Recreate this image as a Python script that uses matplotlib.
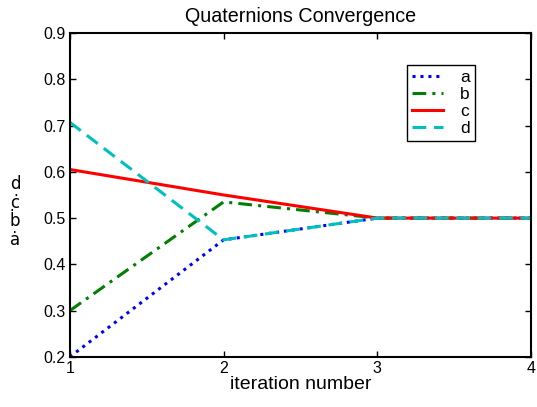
import matplotlib
matplotlib.use("Agg")
import matplotlib.pyplot as plt

iterations = [1, 2, 3, 4]
a_vals = [0.200, 0.453, 0.500, 0.500]
b_vals = [0.300, 0.535, 0.500, 0.500]
c_vals = [0.605, 0.550, 0.500, 0.500]
d_vals = [0.707, 0.453, 0.500, 0.500]
x_ticks = [1, 2, 3, 4]
y_ticks = [0.2, 0.3, 0.4, 0.5, 0.6, 0.7, 0.8, 0.9]

plt.rcParams['font.family'] = ['Liberation Sans', 'DejaVu Sans']

fig = plt.figure(figsize=(5.37, 4.07), dpi=100)
ax = fig.add_axes([0.130, 0.123, 0.859, 0.796])

ax.plot(iterations, a_vals, color='#0000ff', linestyle=(0, (1, 1.6)), linewidth=2.2, label='a')
ax.plot(iterations, b_vals, color='#007f00', linestyle=(0, (4.5, 2, 1, 2)), linewidth=2.2, label='b')
ax.plot(iterations, c_vals, color='#ff0000', linestyle='-', linewidth=2.2, label='c')
ax.plot(iterations, d_vals, color='#00bfbf', linestyle=(0, (4.5, 2.5)), linewidth=2.2, label='d')

ax.set_xlim(1, 4)
ax.set_ylim(0.2, 0.9)
ax.set_xticks(x_ticks)
ax.set_yticks(y_ticks)
ax.set_xticklabels([str(t) for t in x_ticks])
ax.set_yticklabels([f"{t:.1f}" for t in y_ticks])
ax.tick_params(direction='in', top=True, right=True, length=4, width=1, labelsize=11.5, pad=3)
for s in ax.spines.values():
    s.set_linewidth(1.5)

ax.set_title('Quaternions Convergence', fontsize=14.2, pad=8)
ax.set_xlabel('iteration number', fontsize=14, labelpad=0)
fig.text(15 / 537, 1 - 212 / 407, 'd\nċ\nḃ\nȧ', fontsize=12, ha='center', va='center',
         linespacing=1.05, family=['DejaVu Sans'])

leg = ax.legend(loc='upper left', bbox_to_anchor=(0.731, 0.901), borderaxespad=0,
                fontsize=12.5,
                frameon=True, fancybox=False, edgecolor='black', framealpha=1,
                handlelength=1.8, handletextpad=0.95, labelspacing=0.1, borderpad=0.3)
leg.get_frame().set_linewidth(1.0)

fig.savefig('out.png', dpi=100)
